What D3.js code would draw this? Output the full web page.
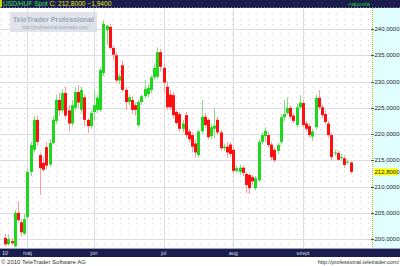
<!doctype html>
<html>
<head>
<meta charset="utf-8"/>
<title>USD/HUF Spot</title>
<style>
body{margin:0;padding:0;overflow:hidden;background:#fff;}
svg{display:block;font-family:"Liberation Sans",Arial,sans-serif;}
</style>
<script src="https://d3js.org/d3.v7.min.js"></script>
</head>
<body>
<script>
// napi gyertyak: open, high, low, close (2010 apr. 22 - szept. 22)
var opens  = [200.2,199.0,199.6,198.6,205.0,203.2,201.0,204.2,212.8,217.0,222.7,216.0,214.5,217.5,214.2,218.3,222.5,226.5,224.5,227.8,
              224.5,222.0,225.0,228.0,224.6,227.0,222.7,221.5,224.2,224.6,224.6,231.6,239.8,240.4,236.4,235.0,230.2,233.1,228.4,226.1,
              226.5,225.5,221.7,226.1,227.2,227.6,228.4,230.8,230.9,235.6,232.6,229.0,227.5,227.4,224.2,223.8,221.0,223.6,220.5,219.8,
              218.2,216.0,220.5,223.3,222.7,219.6,221.0,222.7,220.3,217.3,217.6,218.0,217.0,213.0,212.8,213.6,212.4,212.2,211.8,209.7,
              211.2,218.5,219.6,219.8,218.0,217.0,216.8,218.5,223.2,224.0,225.0,223.5,221.7,225.1,225.9,222.0,221.5,219.5,221.3,226.9,
              225.1,223.8,222.0,219.8,216.3,216.4,215.4,215.4,214.6,214.6];
var highs  = [201.0,200.8,200.2,205.5,207.2,203.8,204.8,213.5,218.5,223.5,223.5,216.5,215.5,218.5,219.0,223.5,227.5,227.8,228.5,229.0,
              225.5,226.5,229.0,229.3,229.0,227.5,223.0,224.5,228.4,227.5,232.8,241.7,240.8,241.0,236.8,235.5,231.5,234.0,229.0,227.5,
              227.2,226.0,226.5,227.5,230.3,229.5,231.2,233.5,236.5,236.2,233.5,230.0,228.4,228.0,224.6,224.2,222.7,224.2,221.0,220.3,
              218.9,220.8,226.5,224.0,223.0,222.0,224.9,223.3,220.8,218.2,218.5,218.5,217.5,214.0,214.2,214.0,212.8,212.5,212.2,212.0,
              219.0,220.4,221.3,220.5,218.5,217.5,218.3,223.8,226.5,227.0,225.5,224.0,225.8,227.4,226.5,222.5,222.0,221.0,227.5,228.4,
              225.6,224.5,222.5,220.3,217.0,216.8,216.2,215.8,215.2,214.8];
var lows   = [198.6,198.8,198.9,198.4,203.2,200.5,200.8,203.8,212.0,216.5,217.8,208.4,212.8,213.3,213.8,218.0,222.0,223.5,224.0,223.0,
              220.5,221.5,224.5,225.0,224.0,221.5,220.2,221.0,222.7,224.0,224.2,231.0,237.0,236.0,234.0,229.8,229.5,228.0,224.6,225.5,
              223.8,223.5,221.3,225.5,226.8,227.0,227.8,230.3,230.5,232.0,227.8,224.6,224.6,223.0,221.7,220.5,220.3,219.2,218.5,216.5,
              215.5,215.5,220.0,221.3,219.0,219.0,219.2,219.8,216.8,216.8,215.5,215.6,212.5,212.6,212.2,212.0,208.8,208.6,210.3,209.3,
              210.8,218.0,218.5,217.5,215.0,214.6,216.2,218.0,222.5,223.6,222.8,222.0,221.3,224.8,221.3,220.5,219.3,218.7,220.8,224.6,
              223.0,221.8,219.3,215.0,215.8,214.9,214.9,213.5,214.2,212.4];
var closes = [199.0,200.0,199.2,205.0,203.6,201.3,203.8,212.8,217.9,222.7,218.5,213.5,213.2,214.0,218.3,222.7,226.5,224.5,227.8,223.5,
              222.0,225.5,228.0,226.0,228.4,222.7,221.5,224.0,225.5,226.9,232.2,241.0,240.6,236.4,235.1,230.2,231.0,228.4,226.1,227.0,
              224.6,224.6,226.1,227.2,228.6,228.8,230.8,232.6,235.6,232.8,229.8,225.1,225.1,223.6,222.1,221.0,222.0,219.8,219.0,217.6,
              216.5,220.5,223.3,221.7,219.4,221.3,221.6,220.3,217.3,217.6,216.5,216.2,213.0,213.5,213.6,212.6,210.3,209.7,211.0,211.6,
              218.5,219.8,220.6,217.9,215.6,215.0,217.9,223.2,223.8,225.0,223.3,222.5,225.1,226.0,221.7,221.0,219.8,220.5,226.9,225.1,
              223.6,222.3,219.8,215.6,216.5,215.1,215.6,214.1,214.74,212.8];

var monthLabels = ["máj", "jún", "júl", "aug", "szept"];
var monthIdx    = [7, 28, 50, 72, 94];
var yTicks      = [200, 205, 210, 215, 220, 225, 230, 235, 240];
var lastClose   = 212.8;
var change      = -1.94;

var W = 400, H = 266;
var plotL = 0, plotR = 372, plotT = 8, plotB = 248;

var svg = d3.select("body").append("svg").attr("width", W).attr("height", H);

var x = d3.scaleLinear().domain([0, opens.length - 1]).range([5.3, 350.5]);
var y = d3.scaleLinear().domain([198.3, 244]).range([plotB, plotT]);
var fmt = function(v){ return d3.format(".4f")(v).replace(".", ","); };

// hatter
svg.append("rect").attr("x", 0).attr("y", 0).attr("width", W).attr("height", H).attr("fill", "#fff");
svg.append("rect").attr("x", plotR).attr("y", plotT).attr("width", W - plotR).attr("height", plotB - plotT).attr("fill", "#e2ffff");

// pontozott racs
var minor = d3.range(199, 244, 1);
svg.selectAll(".minor").data(minor).enter().append("line")
    .attr("x1", plotL).attr("x2", plotR)
    .attr("y1", function(d){ return Math.round(y(d)) + 0.5; })
    .attr("y2", function(d){ return Math.round(y(d)) + 0.5; })
    .attr("stroke", "#f6c4ca").attr("stroke-dasharray", "1,7");

// racs
svg.selectAll(".hgrid").data(yTicks).enter().append("line")
    .attr("x1", plotL).attr("x2", plotR)
    .attr("y1", function(d){ return Math.round(y(d)) + 0.5; })
    .attr("y2", function(d){ return Math.round(y(d)) + 0.5; })
    .attr("stroke", "#dcdde4");
svg.selectAll(".vgrid").data(monthIdx).enter().append("line")
    .attr("x1", function(d){ return Math.round(x(d)) + 0.5; })
    .attr("x2", function(d){ return Math.round(x(d)) + 0.5; })
    .attr("y1", plotT).attr("y2", plotB)
    .attr("stroke", "#dcdde4");

// vizjel
svg.append("rect").attr("x", 10).attr("y", 12).attr("width", 87).attr("height", 20)
    .attr("fill", "#d8dce4").attr("opacity", 0.8);
svg.append("text").attr("x", 13).attr("y", 22).text("TeleTrader Professional")
    .attr("font-size", 7.2).attr("font-weight", "bold").attr("fill", "#9aa6b8");
svg.append("text").attr("x", 22).attr("y", 29).text("http://professional.teletrader.com/")
    .attr("font-size", 4.5).attr("fill", "#9aa6b8");

// gyertyak
var idx = d3.range(opens.length);
svg.selectAll(".wick").data(idx).enter().append("line")
    .attr("x1", function(i){ return Math.round(x(i)) + 0.5; })
    .attr("x2", function(i){ return Math.round(x(i)) + 0.5; })
    .attr("y1", function(i){ return y(highs[i]); })
    .attr("y2", function(i){ return y(lows[i]); })
    .attr("stroke", function(i){ return closes[i] >= opens[i] ? "#7ee07e" : "#ff9a9a"; });
svg.selectAll(".body").data(idx).enter().append("rect")
    .attr("x", function(i){ return Math.round(x(i)) - 1; })
    .attr("width", 3)
    .attr("y", function(i){ return y(Math.max(opens[i], closes[i])); })
    .attr("height", function(i){ return Math.max(1, Math.abs(y(opens[i]) - y(closes[i]))); })
    .attr("fill", function(i){ return closes[i] >= opens[i] ? "#1ed81e" : "#ff1010"; });

// jobb tengely
svg.append("line").attr("x1", plotR + 0.5).attr("x2", plotR + 0.5).attr("y1", plotT).attr("y2", plotB)
    .attr("stroke", "#c8b000").attr("stroke-dasharray", "1,1");
svg.selectAll(".ytick").data(yTicks).enter().append("line")
    .attr("x1", plotR - 1).attr("x2", plotR + 2)
    .attr("y1", function(d){ return Math.round(y(d)) + 0.5; })
    .attr("y2", function(d){ return Math.round(y(d)) + 0.5; })
    .attr("stroke", "#555");
svg.selectAll(".ylab").data(yTicks).enter().append("text")
    .attr("x", plotR + 2.5).attr("y", function(d){ return y(d) + 2; })
    .text(fmt).attr("font-size", 6).attr("fill", "#222");
svg.append("rect").attr("x", plotR + 2).attr("y", y(lastClose) - 3.5).attr("width", 24).attr("height", 7)
    .attr("fill", "#ffff00");
svg.append("text").attr("x", plotR + 2.5).attr("y", y(lastClose) + 2).text(fmt(lastClose))
    .attr("font-size", 6).attr("fill", "#222");

// fejlec
svg.append("rect").attr("x", 0).attr("y", 0).attr("width", W).attr("height", plotT).attr("fill", "#1b1d4e");
svg.append("line").attr("x1", 0).attr("x2", W).attr("y1", plotT - 0.5).attr("y2", plotT - 0.5)
    .attr("stroke", "#8a8ca8").attr("stroke-dasharray", "1,2");
svg.append("rect").attr("x", 0).attr("y", 0).attr("width", 2).attr("height", plotT - 1).attr("fill", "#c8d800");
var head = svg.append("text").attr("x", 3).attr("y", 6.2).attr("font-size", 6.6);
head.append("tspan").attr("fill", "#3ee03e").text("USD/HUF Spot ");
head.append("tspan").attr("fill", "#e8e800").text("C: " + fmt(lastClose) + " " + fmt(change));
svg.append("text").attr("x", 370).attr("y", 6.2).attr("text-anchor", "end").text("naponta")
    .attr("font-size", 6).attr("fill", "#22cc22");

// also tengely
svg.append("rect").attr("x", 0).attr("y", plotB).attr("width", W).attr("height", 9).attr("fill", "#1b1d4e");
svg.append("line").attr("x1", 0).attr("x2", W).attr("y1", plotB + 0.5).attr("y2", plotB + 0.5).attr("stroke", "#9aa0c0");
svg.append("text").attr("x", 2).attr("y", plotB + 7).text("10").attr("font-size", 5.5).attr("fill", "#e0e0f0");
svg.selectAll(".mlab").data(monthIdx).enter().append("text")
    .attr("x", function(d){ return x(d); }).attr("y", plotB + 7)
    .attr("text-anchor", "middle")
    .text(function(d, i){ return monthLabels[i]; })
    .attr("font-size", 5.5).attr("fill", "#d8d8e8");

// lablec
svg.append("text").attr("x", 1).attr("y", 264).text("© 2010 TeleTrader Software AG")
    .attr("font-size", 6).attr("fill", "#333");
svg.append("text").attr("x", 399).attr("y", 264).attr("text-anchor", "end").text("http://professional.teletrader.com/")
    .attr("font-size", 5.5).attr("fill", "#333");
</script>
</body>
</html>
